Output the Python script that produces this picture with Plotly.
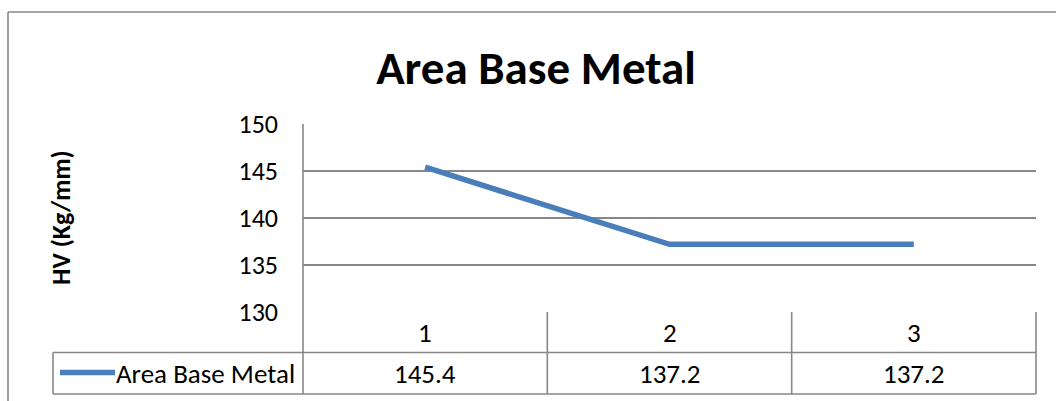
import plotly.graph_objects as go

# Hardness readings across the base-metal area
categories = [1, 2, 3]
hv_values = [145.4, 137.2, 137.2]
series_name = "Area Base Metal"
chart_title = "Area Base Metal"
y_title = "HV (Kg/mm)"
y_ticks = [130, 135, 140, 145, 150]

W, H = 1056, 401
L, R, T, B = 303, 1036, 124, 312          # plot area in pixels
ROW1_BOTTOM, ROW2_BOTTOM = 352.5, 394     # data-table rows
TABLE_LEFT = 53

FONT = "Carlito, Calibri, Lato, sans-serif"
GRID = "#878787"
BLUE = "#4A7EBB"


def px(x):
    return (x - L) / (R - L)


def py(y):
    return (B - y) / (B - T)


fig = go.Figure()
fig.add_trace(go.Scatter(
    x=categories, y=hv_values, mode="lines", name=series_name,
    line=dict(color=BLUE, width=5.5), showlegend=False,
))

shapes = []


def seg(x0, y0, x1, y1, color=GRID, width=1.6):
    shapes.append(dict(type="line", xref="paper", yref="paper",
                       x0=px(x0), y0=py(y0), x1=px(x1), y1=py(y1),
                       line=dict(color=color, width=width)))


# outer chart border: top edge and left edge (runs off the page)
seg(8, 12, W + 4, 12)
seg(8, 12, 8, H + 4)

# data table grid
seg(L, T, L, ROW2_BOTTOM)
seg(TABLE_LEFT, ROW1_BOTTOM, R, ROW1_BOTTOM)
seg(TABLE_LEFT, ROW2_BOTTOM, R, ROW2_BOTTOM)
seg(TABLE_LEFT, ROW1_BOTTOM, TABLE_LEFT, ROW2_BOTTOM)
seg(R, B, R, ROW2_BOTTOM)
for k in range(1, len(categories)):
    xb = L + (R - L) * k / len(categories)
    seg(xb, B, xb, ROW2_BOTTOM)

# legend key inside the table
seg(60, 372.5, 115, 372.5, color=BLUE, width=5.5)

annotations = []
row1_mid = py((B + ROW1_BOTTOM) / 2)
row2_mid = py((ROW1_BOTTOM + ROW2_BOTTOM) / 2)
cell_font = dict(family=FONT, size=27, color="black")
for c, v in zip(categories, hv_values):
    annotations.append(dict(x=c, xref="x", y=row1_mid, yref="paper",
                            text=str(c), showarrow=False, font=cell_font,
                            xanchor="center", yanchor="middle"))
    annotations.append(dict(x=c, xref="x", y=row2_mid, yref="paper",
                            text=f"{v:.1f}", showarrow=False, font=cell_font,
                            xanchor="center", yanchor="middle"))
annotations.append(dict(x=px(297), xref="paper", y=row2_mid, yref="paper",
                        text=series_name, showarrow=False, font=cell_font,
                        xanchor="right", yanchor="middle"))
annotations.append(dict(x=px(61), xref="paper", y=py(218), yref="paper",
                        text=f"<b>{y_title}</b>", showarrow=False, textangle=-90,
                        font=dict(family=FONT, size=26, color="black"),
                        xanchor="center", yanchor="middle"))

fig.update_layout(
    width=W, height=H,
    margin=dict(l=L, r=W - R, t=T, b=H - B),
    paper_bgcolor="white", plot_bgcolor="white",
    title=dict(text=f"<b>{chart_title}</b>", x=536 / W, xanchor="center",
               y=1 - 68 / H, yanchor="middle",
               font=dict(family=FONT, size=47, color="black")),
    xaxis=dict(range=[0.5, 3.5], showgrid=False, zeroline=False,
               showticklabels=False, ticks="", showline=False, fixedrange=True),
    yaxis=dict(range=[130, 150], tickvals=y_ticks, showgrid=True,
               gridcolor=GRID, gridwidth=1.6, zeroline=False, showline=False,
               ticks="", ticklabelstandoff=24,
               tickfont=dict(family=FONT, size=26, color="black"), fixedrange=True),
    shapes=shapes,
    annotations=annotations,
    showlegend=False,
)

fig.write_html("out.html", config={"displayModeBar": False})
